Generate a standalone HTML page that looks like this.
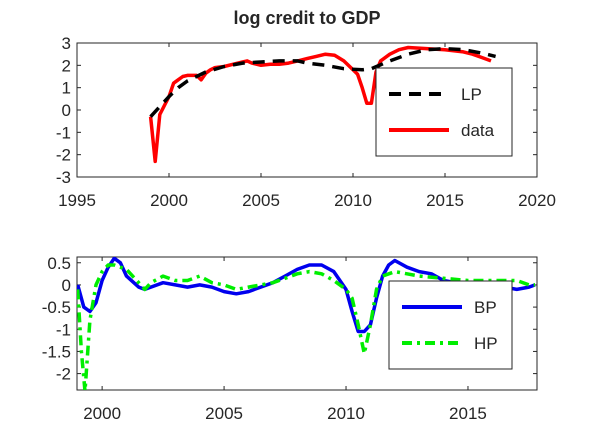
<!DOCTYPE html>
<html><head><meta charset="utf-8"><style>
body{margin:0;background:#fff}
svg text{font-family:"Liberation Sans",sans-serif;fill:#262626}
</style></head><body>
<svg id="c" width="593" height="438" xmlns="http://www.w3.org/2000/svg">
<rect width="593" height="438" fill="#fff"/>
<text x="307" y="24" text-anchor="middle" font-size="18" font-weight="bold">log  credit  to  GDP</text>
</svg>
<script>
const topX=[1999,1999.25,1999.5,1999.75,2000,2000.25,2000.5,2000.75,2001,2001.25,2001.5,2001.75,2002,2002.25,2002.5,2003,2003.5,2004,2004.25,2004.5,2005,2005.5,2006,2006.5,2007,2007.5,2008,2008.5,2009,2009.5,2010,2010.25,2010.5,2010.75,2011,2011.25,2011.5,2012,2012.5,2013,2014,2015,2016,2016.5,2017,2017.5];
const dataVals=[-0.3,-2.3,-0.2,0.2,0.6,1.2,1.35,1.5,1.55,1.55,1.55,1.35,1.65,1.8,1.9,1.95,2.05,2.15,2.2,2.1,2.0,2.05,2.05,2.1,2.2,2.3,2.4,2.5,2.45,2.2,1.8,1.6,1.0,0.3,0.3,1.7,2.2,2.5,2.7,2.8,2.75,2.7,2.6,2.5,2.35,2.2];
const lpX=[1999,2000,2000.5,2001,2002,2003,2004,2005,2006,2007,2007.5,2008.5,2009.5,2010.5,2011,2012,2013,2014,2015,2016,2017,2017.75];
const lpVals=[-0.3,0.6,1.0,1.3,1.7,1.95,2.1,2.15,2.2,2.2,2.1,2.0,1.85,1.8,1.85,2.2,2.5,2.7,2.75,2.7,2.55,2.4];
const topYTicks=[3,2,1,0,-1,-2,-3];
const topXTicks=[1995,2000,2005,2010,2015,2020];
const bpX=[1999,1999.25,1999.5,1999.75,2000,2000.25,2000.5,2000.75,2001,2001.5,2001.75,2002,2002.5,2003,2003.5,2004,2004.5,2005,2005.5,2006,2006.5,2007,2007.5,2008,2008.5,2009,2009.5,2010,2010.25,2010.5,2010.75,2011,2011.25,2011.5,2011.75,2012,2012.5,2013,2013.5,2014,2014.5,2015,2015.5,2016,2016.5,2017,2017.5,2017.75];
const bpVals=[0,-0.5,-0.6,-0.4,0.1,0.4,0.6,0.5,0.2,-0.05,-0.1,-0.05,0.05,0,-0.05,0,-0.05,-0.15,-0.2,-0.15,-0.05,0.05,0.2,0.35,0.45,0.45,0.3,-0.1,-0.6,-1.05,-1.05,-0.9,-0.3,0.2,0.45,0.55,0.4,0.3,0.25,0.1,0.05,0.05,0,-0.05,-0.05,-0.1,-0.05,0];
const hpX=[1999,1999.15,1999.3,1999.5,1999.75,2000,2000.25,2000.5,2001,2001.5,2001.75,2002,2002.5,2003,2003.5,2004,2004.5,2005,2005.5,2006,2006.5,2007,2007.5,2008,2008.5,2009,2009.5,2010,2010.25,2010.5,2010.75,2011,2011.25,2011.5,2012,2012.5,2013,2014,2015,2016,2017,2017.5,2017.75];
const hpVals=[-0.1,-1.5,-2.4,-0.8,0,0.3,0.45,0.45,0.35,0.05,-0.1,0.05,0.2,0.1,0.1,0.2,0.05,0,-0.1,-0.05,0,0.05,0.15,0.25,0.3,0.25,0.1,-0.1,-0.3,-0.9,-1.55,-0.9,-0.1,0.2,0.3,0.25,0.2,0.15,0.1,0.1,0.1,0,0];
const botYTicks=[0.5,0,-0.5,-1,-1.5,-2];
const botYLabels=["0.5","0","-0.5","-1","-1.5","-2"];
const botXTicks=[2000,2005,2010,2015];

const svg=document.getElementById('c');
const NS='http://www.w3.org/2000/svg';
function mk(tag,attrs,parent){const e=document.createElementNS(NS,tag);for(const k in attrs)e.setAttribute(k,attrs[k]);(parent||svg).appendChild(e);return e;}
function clip(id,x,y,w,h){const d=mk('clipPath',{id:id});mk('rect',{x:x,y:y,width:w,height:h},d);}

const tL=77,tR=537,tT=43,tB=177;
const tx=v=>tL+(v-1995)/25*(tR-tL);
const ty=v=>tT+(3-v)/6*(tB-tT);
const bL=77,bR=537,bT=257,bB=390,bx0=1998.97,bx1=2017.83,by0=0.63,by1=-2.37;
const bx=v=>bL+(v-bx0)/(bx1-bx0)*(bR-bL);
const by=v=>bT+(by0-v)/(by0-by1)*(bB-bT);
clip('ct',tL,tT,tR-tL,tB-tT);clip('cb',bL,bT,bR-bL,bB-bT);

function frame(L,R,T,B,name){
 const r=mk('rect',{x:L,y:T,width:R-L,height:B-T,fill:'#fff',stroke:'#262626','stroke-width':1});
 
 
}
frame(tL,tR,tT,tB,'top-axes');frame(bL,bR,bT,bB,'bottom-axes');

topYTicks.forEach(v=>{const y=ty(v);
 mk('line',{x1:tL,x2:tL+4,y1:y,y2:y,stroke:'#262626'});mk('line',{x1:tR,x2:tR-4,y1:y,y2:y,stroke:'#262626'});
 const t=mk('text',{x:tL-6,y:y+6,'text-anchor':'end','font-size':17});t.textContent=v;
 
 });
topXTicks.forEach(v=>{const x=tx(v);
 mk('line',{x1:x,x2:x,y1:tB,y2:tB-4,stroke:'#262626'});mk('line',{x1:x,x2:x,y1:tT,y2:tT+4,stroke:'#262626'});
 const t=mk('text',{x:x,y:tB+29,'text-anchor':'middle','font-size':17});t.textContent=v;
 
 });
botYTicks.forEach((v,i)=>{const y=by(v);
 mk('line',{x1:bL,x2:bL+4,y1:y,y2:y,stroke:'#262626'});mk('line',{x1:bR,x2:bR-4,y1:y,y2:y,stroke:'#262626'});
 const t=mk('text',{x:bL-6,y:y+6,'text-anchor':'end','font-size':17});t.textContent=botYLabels[i];
 
 });
botXTicks.forEach(v=>{const x=bx(v);
 mk('line',{x1:x,x2:x,y1:bB,y2:bB-4,stroke:'#262626'});mk('line',{x1:x,x2:x,y1:bT,y2:bT+4,stroke:'#262626'});
 const t=mk('text',{x:x,y:bB+29,'text-anchor':'middle','font-size':17});t.textContent=v;
 
 });

function series(xs,ys,fx,fy,color,dash,cl,name){
 const d=xs.map((x,i)=>(i?'L':'M')+fx(x).toFixed(1)+','+fy(ys[i]).toFixed(1)).join('');
 const p=mk('path',{d:d,fill:'none',stroke:color,'stroke-width':3.5,'stroke-dasharray':dash,'clip-path':'url(#'+cl+')','stroke-linejoin':'round'});
 
 
}
series(topX,dataVals,tx,ty,'#ff0000','none','ct','data-line');
series(lpX,lpVals,tx,ty,'#000','12,8','ct','lp-line');
series(bpX,bpVals,bx,by,'#0000ee','none','cb','bp-line');
series(hpX,hpVals,bx,by,'#00ee00','10,5,3,5','cb','hp-line');

function legend(x,y,w,h,items,name){
 const g=mk('g',{});
 
 
 mk('rect',{x:x,y:y,width:w,height:h,fill:'#fff',stroke:'#262626'},g);
 items.forEach((it,i)=>{const yy=y+h*(i+0.5)/items.length+ (i?-4:4);
  mk('line',{x1:x+13,x2:x+73,y1:yy,y2:yy,stroke:it[1],'stroke-width':4,'stroke-dasharray':it[2]},g);
  const t=mk('text',{x:x+85,y:yy+6,'font-size':17},g);t.textContent=it[0];
  
  });
}
legend(376,68,136,88,[['LP','#000','12,8'],['data','#ff0000','none']],'top-legend');
legend(389,281,123,88,[['BP','#0000ee','none'],['HP','#00ee00','10,5,3,5']],'bottom-legend');
</script>
</body></html>
